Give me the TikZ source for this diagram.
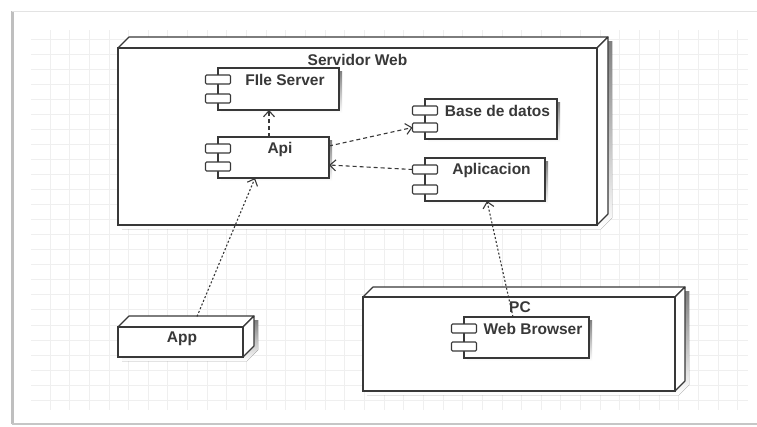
\documentclass[tikz,border=0pt]{standalone}
\usepackage{fontspec}
\setmainfont{Liberation Sans}
\usetikzlibrary{arrows.meta,calc}
\definecolor{ink}{HTML}{383838}
\definecolor{gridc}{HTML}{EFEFEF}
\definecolor{shade}{HTML}{E8E8E8}

% component: body with two ports on its left edge and a label
\newcommand\compbox[6]{%
  \fill[shade] (#2+3,#3+3) rectangle ++(#4,#5);
  \node[body, minimum width=#4, minimum height=#5] (#1) at (#2,#3) {};
  \node[port] (#1-p1) at ($(#1.north west)+(0,11.5)$) {};
  \node[port] (#1-p2) at ($(#1.south west)+(0,-11.5)$) {};
  \node[lbl] (#1-t) at ($(#1.north)+(6.5,12)$) {#6};
}
% 3D node: front face plus top and right faces of depth #6
\newcommand\cubenode[6]{%
  \fill[shade] (#2+4,#3+4) -- ++(#6,-#6) -- ++(#4,0) -- ++(0,#5) -- ++(-#6,#6) -- ++(-#4,0) -- cycle;
  \node[front, minimum width=#4, minimum height=#5] (#1) at (#2,#3) {};
  \draw[face] (#1.north west) -- ++(#6,-#6) -- ($(#1.north east)+(#6,-#6)$) -- (#1.north east) -- cycle;
  \draw[face] (#1.north east) -- ++(#6,-#6) -- ($(#1.south east)+(#6,-#6)$) -- (#1.south east) -- cycle;
  \draw[ink, line width=1.6pt] (#1.south west) rectangle (#1.north east);
}

\begin{document}
\begin{tikzpicture}[x=1pt,y=-1pt,
  lbl/.style={font=\fontsize{15.5}{18}\selectfont\bfseries, text=ink, inner sep=0},
  body/.style={draw=ink, line width=1.2pt, fill=white, inner sep=0, outer sep=0, anchor=north west},
  front/.style={fill=white, inner sep=0, outer sep=0, anchor=north west},
  face/.style={draw=ink, line width=1.1pt, fill=white, line join=round},
  port/.style={draw=ink, line width=1.1pt, fill=white, minimum width=25, minimum height=9, inner sep=0, outer sep=0, rounded corners=1.2pt},
  dep/.style={draw=ink, line width=1.1pt, dash pattern=on 4pt off 3pt, -{Straight Barb[length=6pt,width=11pt]}},
  deplong/.style={draw=ink, line width=1.1pt, dash pattern=on 2pt off 2pt, -{Straight Barb[length=6pt,width=11pt]}},
]
\useasboundingbox (0,0) rectangle (757,426);
\fill[white] (0,0) rectangle (757,426);

% page edges
\fill[gray!50] (10.5,11) rectangle (13.5,424);
\draw[gray!22, line width=1.5pt] (12,11.5) -- (757,11.5);
\draw[gray!45, line width=1.5pt] (12,424) -- (757,424);

% grid
\foreach \k in {0,...,35} \draw[gridc, line width=0.9pt] (50+19.65*\k,30) -- (50+19.65*\k,410);
\foreach \k in {0,...,24} \draw[gridc, line width=0.9pt] (31,39+15.05*\k) -- (748,39+15.05*\k);

% deployment nodes
\cubenode{srv}{118}{48}{479}{177}{11}
\node[lbl] (srv-t) at ($(srv.north)+(0,12)$) {Servidor Web};

\cubenode{app}{118}{327}{125}{30}{11}
\node[lbl] (app-t) at ($(app.north)+(1.5,12)$) {App};

\cubenode{pc}{363}{297}{312}{94}{10}
\node[lbl] (pc-t) at ($(pc.north)+(1,10)$) {PC};

% components
\compbox{fs}{218}{68}{121}{42}{FIle Server}
\compbox{api}{218}{137}{111}{41}{Api}
\compbox{db}{425}{99}{132}{40}{Base de datos}
\compbox{apl}{425}{158}{120}{43}{Aplicacion}
\compbox{wb}{464}{317}{125}{41}{Web Browser}

% dependencies
\draw[dep] ([xshift=-4.5pt]api.north) -- ([xshift=-9.5pt]fs.south);
\draw[dep] ([yshift=11.5pt]api.east) -- (db-p2.west);
\draw[dep] (apl-p1.west) -- ([yshift=-7.5pt]api.east);
\draw[deplong] ($(app.north)+(16.5,-10.5)$) -- ([xshift=-18.5pt]api.south);
\draw[deplong] ([xshift=-13.5pt]wb.north) -- ([xshift=2pt]apl.south);
\end{tikzpicture}
\end{document}
